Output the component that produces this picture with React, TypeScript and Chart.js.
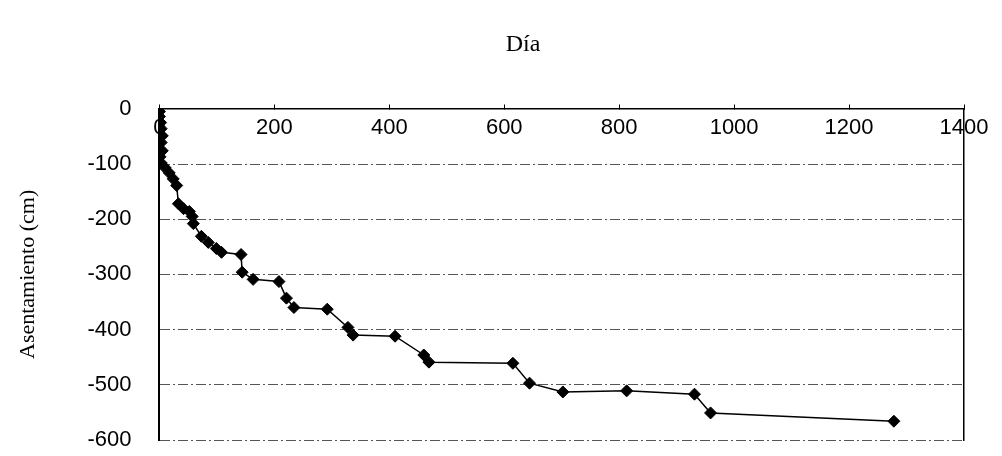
import React, { useEffect, useRef } from 'react';
import { Chart, registerables } from 'chart.js';

Chart.register(...registerables);

// Day of measurement
const days = [
  0, 0, 2, 3, 5, 3, 5, 1, 3, 10, 17, 24, 30, 33, 42, 52, 57, 59, 73, 85, 99, 108,
  142, 144, 163, 208, 221, 234, 292, 328, 337, 410, 460, 469, 615, 644, 702, 813,
  931, 959, 1278,
];
// Settlement (cm)
const settlement = [
  -5, -14, -25, -36, -49, -61, -76, -87, -98, -107, -116, -127, -139, -172, -181,
  -186, -195, -208, -231, -242, -253, -260, -264, -296, -309, -313, -343, -360,
  -363, -396, -410, -412, -446, -459, -461, -497, -513, -511, -517, -551, -566,
];
const xTicks = [0, 200, 400, 600, 800, 1000, 1200, 1400];
const yTicks = [0, -100, -200, -300, -400, -500, -600];

const tickFont = { family: '"Liberation Sans", Arial, sans-serif', size: 22, weight: 'normal' as const, lineHeight: 1 };
const serifFont = '"Liberation Serif", "Times New Roman", serif';

// shifts the title block horizontally after layout (title sits right of page centre in the reference)
const titleShift = {
  id: 'titleShift',
  afterLayout(chart: any, _args: any, opts: any) {
    const tb = chart.titleBlock;
    if (tb) {
      tb.left += opts.dx || 0;
      tb.right += opts.dx || 0;
    }
  },
};

export default function App() {
  const ref = useRef<HTMLCanvasElement>(null);

  useEffect(() => {
    const chart = new Chart(ref.current!, {
      type: 'scatter',
      plugins: [titleShift],
      data: {
        datasets: [
          {
            data: days.map((d, i) => ({ x: d, y: settlement[i] })),
            showLine: true,
            borderColor: '#000',
            borderWidth: 1.5,
            pointStyle: 'rectRot',
            pointRadius: 6,
            pointBackgroundColor: '#000',
            pointBorderColor: '#000',
            pointBorderWidth: 1,
          },
        ],
      },
      options: {
        animation: false,
        responsive: true,
        maintainAspectRatio: false,
        events: [],
        layout: { padding: { left: 4, right: 30, top: 0, bottom: 16 } },
        plugins: {
          legend: { display: false },
          tooltip: { enabled: false },
          titleShift: { dx: 35 },
          title: {
            display: true,
            text: 'Día',
            color: '#000',
            font: { family: serifFont, size: 24, weight: 'normal' },
            padding: { top: 22, bottom: 50 },
          },
        } as any,
        scales: {
          x: {
            type: 'linear',
            position: { y: 0 } as any,
            min: 0,
            max: 1400,
            afterBuildTicks: (s: any) => {
              s.ticks = xTicks.map((v) => ({ value: v }));
            },
            afterFit: (s: any) => {
              s.height = 0;
              s.paddingLeft = 0;
              s.paddingRight = 0;
            },
            ticks: {
              color: '#000',
              font: tickFont,
              padding: 13,
              callback: (v: any) => String(v),
            },
            grid: {
              display: true,
              drawOnChartArea: false,
              drawTicks: true,
              tickLength: -5,
              tickColor: '#000',
              tickWidth: 1,
            },
            border: { display: true, color: '#000', width: 1.5 },
          },
          y: {
            type: 'linear',
            position: 'left',
            min: -600,
            max: 0,
            afterBuildTicks: (s: any) => {
              s.ticks = yTicks.map((v) => ({ value: v }));
            },
            afterFit: (s: any) => {
              s.paddingTop = 0;
              s.paddingBottom = 0;
            },
            ticks: {
              color: '#000',
              font: tickFont,
              padding: 28,
              callback: (v: any) => String(v),
            },
            grid: { color: '#555', lineWidth: 1, drawTicks: false },
            border: { display: true, color: '#000', width: 2, dash: [10, 3, 2, 3] },
            title: {
              display: true,
              text: 'Asentamiento (cm)',
              color: '#000',
              font: { family: serifFont, size: 22, weight: 'normal' },
              padding: { top: 3, bottom: 18 },
            },
          },
          y2: {
            type: 'linear',
            position: 'right',
            min: -600,
            max: 0,
            ticks: { display: false },
            afterFit: (s: any) => {
              s.width = 0;
              s.paddingTop = 0;
              s.paddingBottom = 0;
            },
            grid: { display: true, drawOnChartArea: false, drawTicks: false },
            border: { display: true, color: '#000', width: 1.5 },
          },
        },
      },
    });
    return () => chart.destroy();
  }, []);

  return (
    <div style={{ position: 'relative', height: 448, marginBottom: -8 }}>
      <canvas ref={ref} />
    </div>
  );
}
